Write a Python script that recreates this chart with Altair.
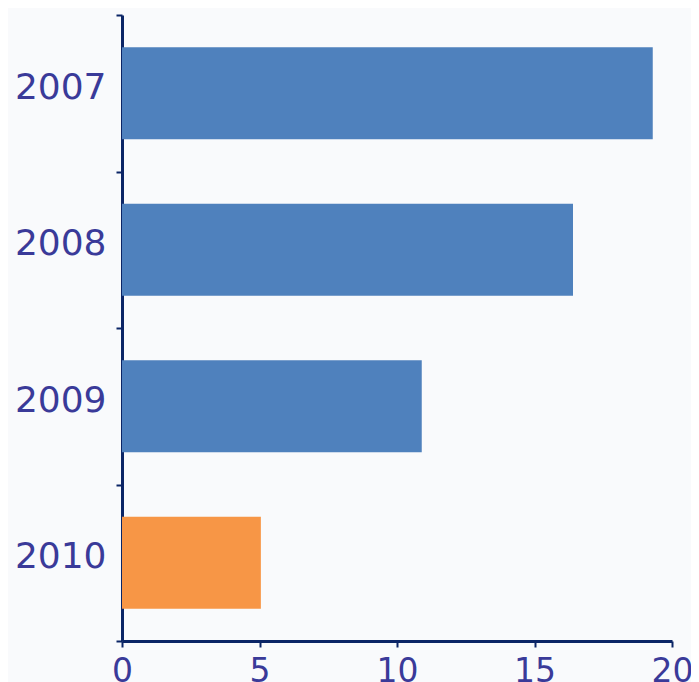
import altair as alt
import pandas as pd

years = ["2007", "2008", "2009", "2010"]
values = [19.3, 16.4, 10.9, 5.05]
groups = ["past", "past", "past", "current"]

df = pd.DataFrame({"year": years, "value": values, "group": groups})

label_color = "#3a3a99"
axis_color = "#0b2566"

chart = alt.Chart(df).mark_bar(size=92).encode(
    y=alt.Y("year:N", sort=years, title=None,
            scale=alt.Scale(paddingInner=0, paddingOuter=0),
            axis=alt.Axis(tickBand="extent", labelFontSize=36, labelColor=label_color,
                          labelFont="DejaVu Sans", labelPadding=10, labelOffset=-6,
                          domainColor=axis_color, domainWidth=3,
                          tickColor=axis_color, tickWidth=2, tickSize=6, grid=False)),
    x=alt.X("value:Q", title=None,
            scale=alt.Scale(domain=[0, 20], nice=False),
            axis=alt.Axis(values=[0, 5, 10, 15, 20], labelFontSize=33, labelColor=label_color,
                          labelFont="DejaVu Sans", labelPadding=8, labelFlush=False,
                          domainColor=axis_color, domainWidth=3,
                          tickColor=axis_color, tickWidth=2, tickSize=6, grid=False)),
    color=alt.Color("group:N", scale=alt.Scale(domain=["past", "current"],
                                               range=["#4f81bd", "#f79646"]), legend=None),
).properties(
    width=550, height=626,
    autosize=alt.AutoSizeParams(type="none"),
    padding={"left": 114, "top": 7, "right": 19, "bottom": 60},
    background="#f9fafc",
).configure_view(stroke=None)

chart.save("out.html", embed_options={"renderer": "svg", "actions": False})
